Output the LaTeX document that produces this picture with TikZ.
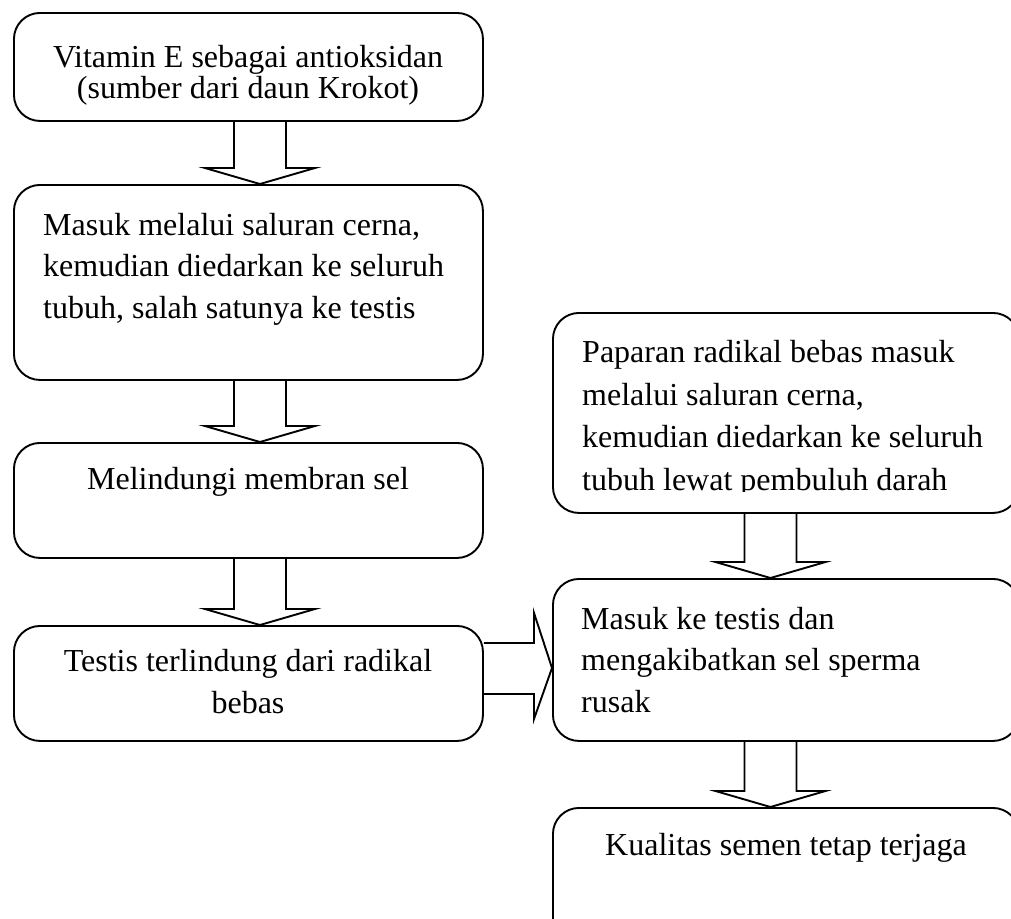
\documentclass[tikz,border=0pt]{standalone}
\usepackage{fontspec}
\setmainfont{Liberation Serif}
\usetikzlibrary{calc}

\tikzset{
  box/.style={draw, line width=1.9pt, rounded corners=26pt, inner sep=0pt, anchor=north west},
  boxtext/.style={inner sep=0pt, font=\fontsize{32}{41.5}\selectfont},
  blockarrow/.style={draw, line width=1.9pt, line join=miter}
}

% hollow block arrow pointing down, #1 = shift of the shaft from the centre
\NewDocumentCommand{\downblock}{O{0}mm}{%
\draw[blockarrow] ($(#2.south)+(#1-26,0)$) -- ($(#3.north)+(#1-26,-16)$)
  -- ($(#3.north)+(#1-55,-16)$) -- ($(#3.north)+(#1,0)$)
  -- ($(#3.north)+(#1+55,-16)$) -- ($(#3.north)+(#1+26,-16)$)
  -- ($(#2.south)+(#1+26,0)$);%
}

\begin{document}
\begin{tikzpicture}[x=1pt, y=-1pt]
    \clip (0,0) rectangle (1011,918);

    % left column
    \node[box, minimum width=469pt, minimum height=108pt] (b1) at (13,12) {};
    \node[box, minimum width=469pt, minimum height=195pt] (b2) at (13,184) {};
    \node[box, minimum width=469pt, minimum height=115pt] (b3) at (13,442) {};
    \node[box, minimum width=469pt, minimum height=115pt] (b4) at (13,625) {};
    \node[boxtext, anchor=base, align=center, font=\fontsize{32}{31}\selectfont] (t1) at (248,98)
        {Vitamin E sebagai antioksidan\\(sumber dari daun Krokot)};
    \node[boxtext, anchor=base west, align=left] (t2) at (43,318)
        {Masuk melalui saluran cerna,\\kemudian diedarkan ke seluruh\\tubuh, salah satunya ke testis};
    \node[boxtext, anchor=base] (t3) at (248,489) {Melindungi membran sel};
    \node[boxtext, anchor=base, align=center] (t4) at (248,713)
        {Testis terlindung dari radikal\\bebas};

    % right column
    \node[box, minimum width=466pt, minimum height=200pt] (b5) at (552,312) {};
    \node[box, minimum width=466pt, minimum height=162pt] (b6) at (552,578) {};
    \node[box, minimum width=466pt, minimum height=153pt] (b7) at (552,807) {};
    \begin{scope}
        \clip (552,312) rectangle (1018,491);
        \node[boxtext, anchor=base west, align=left, font=\fontsize{32}{42.5}\selectfont] (t5) at (582,490)
            {Paparan radikal bebas masuk\\melalui saluran cerna,\\kemudian diedarkan ke seluruh\\tubuh lewat pembuluh darah};
    \end{scope}
    \node[boxtext, anchor=base west, align=left] (t6) at (581,712)
        {Masuk ke testis dan\\mengakibatkan sel sperma\\rusak};
    \node[boxtext, anchor=base] (t7) at (786,855) {Kualitas semen tetap terjaga};

    % arrows
    \downblock[11.5]{b1}{b2}
    \downblock[11.5]{b2}{b3}
    \downblock[11.5]{b3}{b4}
    \downblock[-15.5]{b5}{b6}
    \downblock[-15.5]{b6}{b7}
    \draw[blockarrow] ($(b4.east)+(0,-40.5)$) -- ($(b6.west)+(-18,-17)$)
        -- ($(b6.west)+(-18,-47)$) -- ($(b6.west)+(0,8)$)
        -- ($(b6.west)+(-18,59)$) -- ($(b6.west)+(-18,34)$)
        -- ($(b4.east)+(0,10.5)$);
\end{tikzpicture}
\end{document}
